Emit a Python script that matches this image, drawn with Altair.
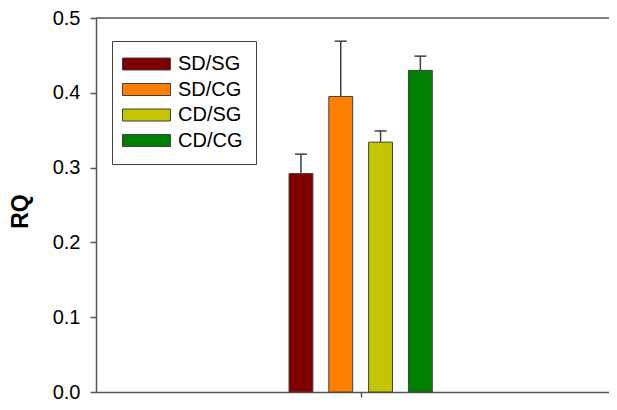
import altair as alt
import pandas as pd

groups = ["SD/SG", "SD/CG", "CD/SG", "CD/CG"]
means = [0.292, 0.395, 0.334, 0.430]
errors = [0.026, 0.074, 0.015, 0.019]
colors = ["#800000", "#FF8000", "#C4C400", "#008000"]
y_ticks = [0.0, 0.1, 0.2, 0.3, 0.4, 0.5]

df = pd.DataFrame({
    "group": groups,
    "mean": means,
    "err": errors,
    "slot": list(range(len(groups))),
})

W, H = 513, 374
TOP = 10
FONT = "Liberation Sans"
AX = "#555555"

xscale = alt.Scale(domain=[-5.15, 7.74], nice=False, zero=False)
yscale = alt.Scale(domain=[0, 0.5], nice=False)

base = alt.Chart(df).transform_calculate(
    lo="datum.slot - 0.3",
    hi="datum.slot + 0.3",
    top="datum.mean + datum.err",
    cl="datum.slot - 0.15",
    cr="datum.slot + 0.15",
)

bars = base.mark_bar(stroke="#404040", strokeWidth=1, opacity=1).encode(
    x=alt.X("lo:Q", scale=xscale,
            axis=alt.Axis(values=[1.5], labels=False, title=None, grid=False,
                          tickSize=5, tickColor=AX, tickWidth=1.5,
                          domainColor=AX, domainWidth=1.5)),
    x2="hi:Q",
    y=alt.Y("mean:Q", scale=yscale,
            axis=alt.Axis(values=y_ticks, format=".1f", title="RQ", grid=False,
                          tickSize=6, tickColor=AX, tickWidth=1.5,
                          domainColor=AX, domainWidth=1.5,
                          labelFont=FONT, labelFontSize=20, labelColor="black",
                          labelPadding=10,
                          titleFont=FONT, titleFontSize=23, titleFontWeight="bold",
                          titleColor="black", titleX=-64, titleY=193)),
    y2=alt.datum(0),
    color=alt.Color("group:N", scale=alt.Scale(domain=groups, range=colors),
                    legend=alt.Legend(title=None, orient="none", legendX=16, legendY=23,
                                      symbolType="M-4,-1H4V1H-4Z", symbolSize=144,
                                      symbolOffset=11.5,
                                      symbolStrokeColor="#404040", symbolStrokeWidth=1,
                                      symbolOpacity=1,
                                      labelFont=FONT, labelFontSize=20, labelColor="black",
                                      labelOffset=21.5, fillColor="white",
                                      strokeColor="#404040", padding=13, rowPadding=5.5)),
)

err_line = base.mark_rule(color="#404040", strokeWidth=1.5).encode(
    x=alt.X("slot:Q", scale=xscale),
    y=alt.Y("mean:Q", scale=yscale),
    y2="top:Q",
)

err_cap = base.mark_rule(color="#404040", strokeWidth=1.5).encode(
    x=alt.X("cl:Q", scale=xscale),
    x2="cr:Q",
    y=alt.Y("top:Q", scale=yscale),
)

top_line = alt.Chart(pd.DataFrame({"k": [0]})).mark_rule(color=AX, strokeWidth=1.5).encode(
    x=alt.value(0), x2=alt.value(W), y=alt.value(0)
)

chart = alt.layer(err_line, err_cap, bars, top_line).properties(
    width=W, height=H,
    autosize=alt.AutoSizeParams(type="none"),
    padding={"left": 88, "top": TOP, "right": 0, "bottom": 394 - TOP - H},
).configure_view(stroke=None)

chart.save("out.html", embed_options={"renderer": "svg", "actions": False})
